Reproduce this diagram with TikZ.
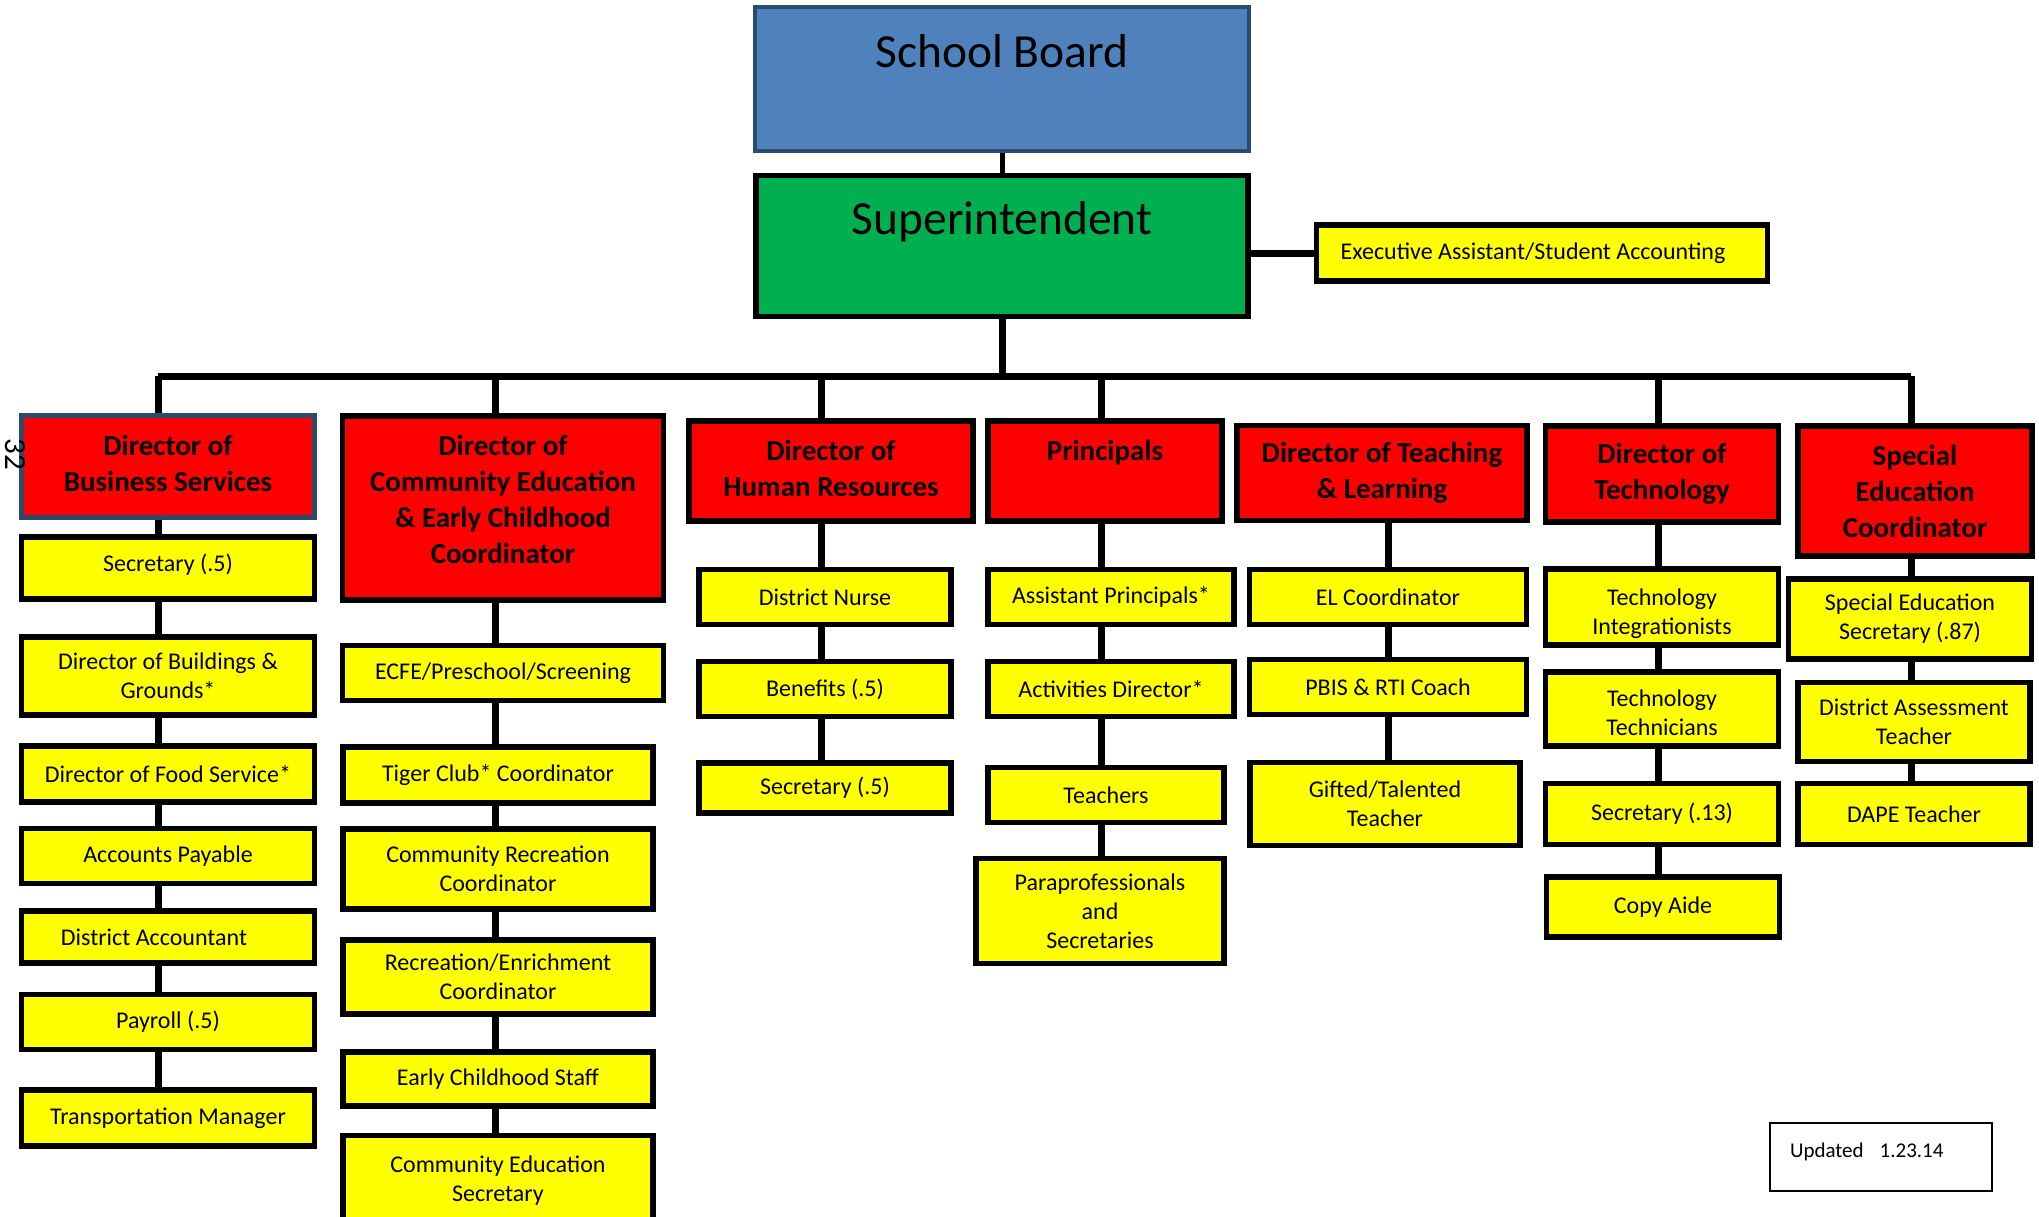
\documentclass[tikz,border=0pt]{standalone}
\usepackage{fontspec}
\setmainfont{Carlito}
\usepackage{xcolor}
\definecolor{boardblue}{HTML}{4F81BD}
\definecolor{boardedge}{HTML}{2C4A6E}
\definecolor{supgreen}{HTML}{00B050}
\definecolor{dirred}{HTML}{FF0000}
\definecolor{staffyel}{HTML}{FFFF00}
\usepackage{tikz}
\tikzset{
  obox/.style ={rectangle, draw=black, line width=5.5pt, align=center, inner sep=2pt},
  tbox/.style ={obox, font=\fontsize{47.5}{56}\selectfont},
  hbox/.style ={obox, fill=dirred, font=\fontsize{29}{36}\selectfont\bfseries},
  ybox/.style ={obox, fill=staffyel, font=\fontsize{24}{29}\selectfont},
  conn/.style ={line width=7pt},
  note/.style ={rectangle, draw=black, line width=2pt, align=left, inner sep=20pt,
                text width=182pt, minimum height=64pt, font=\fontsize{21}{25}\selectfont},
}

\begin{document}
\begin{tikzpicture}[x=1pt, y=-1pt]
  \useasboundingbox (0,0) rectangle (2039,1217);
  \clip (0,0) rectangle (2039,1217);

  \node[tbox, fill=boardblue, draw=boardedge, line width=4pt, minimum width=494, minimum height=144] (sb) at (1002,79) {School Board\\\mbox{}};
  \node[tbox, fill=supgreen, minimum width=492, minimum height=141] (supt) at (1002,246) {Superintendent\\\mbox{}};
  \node[ybox, minimum width=451, minimum height=56] (ea) at (1542,253) {Executive Assistant/Student Accounting\hspace*{18pt}};

  \coordinate (cbs) at (158,376);
  \coordinate (cce) at (495,376);
  \coordinate (chr) at (821,376);
  \coordinate (cpr) at (1101,376);
  \coordinate (ctl) at (1388,376);
  \coordinate (cte) at (1658,376);
  \coordinate (cse) at (1911,376);

  % business services
  \node[hbox, draw=boardedge, line width=5pt, minimum width=293, minimum height=102] (bs0) at (168,466) {Director of\\Business Services\\[-30pt]\mbox{}};
  \node[ybox, minimum width=293, minimum height=62] (bs1) at (168,568) {Secretary (.5)\\[-18pt]\mbox{}};
  \node[ybox, minimum width=293, minimum height=78] (bs2) at (168,676) {Director of Buildings \&\\Grounds*};
  \node[ybox, minimum width=293, minimum height=56] (bs3) at (168,774) {Director of Food Service*};
  \node[ybox, minimum width=293, minimum height=55] (bs4) at (168,856) {Accounts Payable};
  \node[ybox, minimum width=293, minimum height=52] (bs5) at (168,937) {District Accountant\hspace*{28pt}};
  \node[ybox, minimum width=293, minimum height=55] (bs6) at (168,1022) {Payroll (.5)};
  \node[ybox, minimum width=293, minimum height=56] (bs7) at (168,1118) {Transportation Manager};

  % community education
  \node[hbox, minimum width=321, minimum height=184] (ce0) at (503,508) {Director of\\Community Education\\\& Early Childhood\\Coordinator\\[-18pt]\mbox{}};
  \node[ybox, minimum width=321, minimum height=55] (ce1) at (503,673) {ECFE/Preschool/Screening};
  \node[ybox, minimum width=310, minimum height=56] (ce2) at (498,775) {Tiger Club* Coordinator};
  \node[ybox, minimum width=310, minimum height=80] (ce3) at (498,869) {Community Recreation\\Coordinator};
  \node[ybox, minimum width=310, minimum height=74] (ce4) at (498,977) {Recreation/Enrichment\\Coordinator};
  \node[ybox, minimum width=310, minimum height=54] (ce5) at (498,1079) {Early Childhood Staff};
  \node[ybox, minimum width=310, minimum height=91] (ce6) at (498,1181) {Community Education\\Secretary};

  % human resources
  \node[hbox, minimum width=284, minimum height=100] (hr0) at (831,471) {Director of\\Human Resources\\[-30pt]\mbox{}};
  \node[ybox, minimum width=252, minimum height=55] (hr1) at (825,597) {District Nurse};
  \node[ybox, minimum width=252, minimum height=55] (hr2) at (825,689) {Benefits (.5)};
  \node[ybox, minimum width=252, minimum height=50] (hr3) at (825,788) {Secretary (.5)};

  % principals
  \node[hbox, minimum width=234, minimum height=100] (pr0) at (1105,471) {Principals\\[5pt]\mbox{}};
  \node[ybox, minimum width=246, minimum height=55] (pr1) at (1111,597) {Assistant Principals*};
  \node[ybox, minimum width=246, minimum height=55] (pr2) at (1111,689) {Activities Director*};
  \node[ybox, minimum width=236, minimum height=55] (pr3) at (1106,795) {Teachers};
  \node[ybox, minimum width=248, minimum height=105] (pr4) at (1100,911) {Paraprofessionals\\and\\Secretaries};

  % teaching and learning
  \node[hbox, minimum width=290, minimum height=95] (tl0) at (1382,473) {Director of Teaching\\\& Learning};
  \node[ybox, minimum width=277, minimum height=55] (tl1) at (1388,597) {EL Coordinator};
  \node[ybox, minimum width=277, minimum height=55] (tl2) at (1388,687) {PBIS \& RTI Coach};
  \node[ybox, minimum width=270, minimum height=83] (tl3) at (1385,804) {Gifted/Talented\\Teacher};

  % technology
  \node[hbox, minimum width=233, minimum height=96] (te0) at (1662,474) {Director of\\Technology};
  \node[ybox, minimum width=233, minimum height=76] (te1) at (1662,607) {\mbox{}\\[2pt]Technology\\Integrationists};
  \node[ybox, minimum width=233, minimum height=74] (te2) at (1662,709) {\mbox{}\\[-4pt]Technology\\Technicians};
  \node[ybox, minimum width=233, minimum height=61] (te3) at (1662,814) {Secretary (.13)};
  \node[ybox, minimum width=233, minimum height=60] (te4) at (1663,907) {Copy Aide};

  % special education
  \node[hbox, minimum width=234, minimum height=130] (se0) at (1915,491) {Special\\Education\\Coordinator};
  \node[ybox, minimum width=243, minimum height=80] (se1) at (1910,619) {Special Education\\Secretary (.87)};
  \node[ybox, minimum width=232, minimum height=79] (se2) at (1914,722) {District Assessment\\Teacher};
  \node[ybox, minimum width=232, minimum height=61] (se3) at (1914,814) {DAPE Teacher};

  \node[note] (upd) at (1881,1157) {Updated\hspace{16pt}1.23.14\\[-12pt]\mbox{}};
  \node[rotate=-90, font=\fontsize{31}{31}\selectfont] (pg) at (15,454) {32};

  \draw[line width=5pt] (sb.south) -- (supt.north);
  \draw[conn] (supt.east |- ea.west) -- (ea.west);
  \draw[conn] (supt.south) -- (supt.south |- cbs);
  \draw[conn] (cbs) -- (cse);
  \foreach \c/\h in {cbs/bs0,cce/ce0,chr/hr0,cpr/pr0,cte/te0,cse/se0}
    \draw[conn] (\c) -- (\h.north -| \c);

  \foreach \a/\b in {bs0/bs1,bs1/bs2,bs2/bs3,bs3/bs4,bs4/bs5,bs5/bs6,bs6/bs7}
    \draw[conn] (\a.south -| cbs) -- (\b.north -| cbs);
  \foreach \a/\b in {ce0/ce1,ce1/ce2,ce2/ce3,ce3/ce4,ce4/ce5,ce5/ce6}
    \draw[conn] (\a.south -| cce) -- (\b.north -| cce);
  \foreach \a/\b in {hr0/hr1,hr1/hr2,hr2/hr3}
    \draw[conn] (\a.south -| chr) -- (\b.north -| chr);
  \foreach \a/\b in {pr0/pr1,pr1/pr2,pr2/pr3,pr3/pr4}
    \draw[conn] (\a.south -| cpr) -- (\b.north -| cpr);
  \foreach \a/\b in {tl0/tl1,tl1/tl2,tl2/tl3}
    \draw[conn] (\a.south -| ctl) -- (\b.north -| ctl);
  \foreach \a/\b in {te0/te1,te1/te2,te2/te3,te3/te4}
    \draw[conn] (\a.south -| cte) -- (\b.north -| cte);
  \foreach \a/\b in {se0/se1,se1/se2,se2/se3}
    \draw[conn] (\a.south -| cse) -- (\b.north -| cse);
\end{tikzpicture}
\end{document}
